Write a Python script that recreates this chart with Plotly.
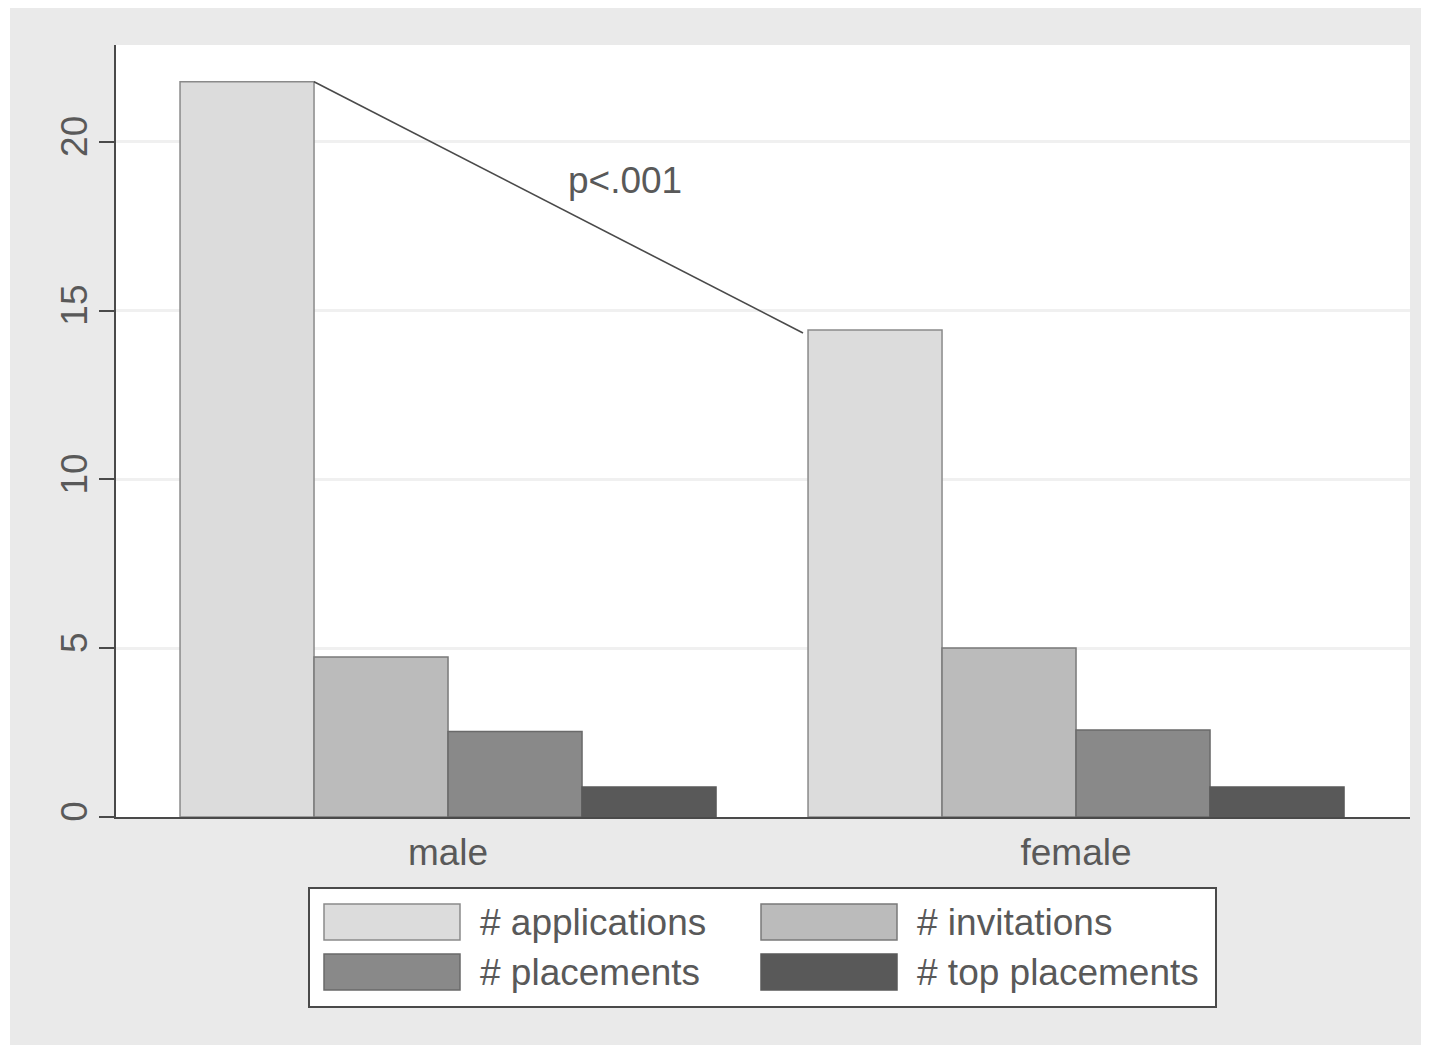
import plotly.graph_objects as go

categories = ["male", "female"]
series_names = ["# applications", "# invitations", "# placements", "# top placements"]
applications = [21.78, 14.43]
invitations = [4.74, 5.01]
placements = [2.53, 2.58]
top_placements = [0.89, 0.89]
series_values = [applications, invitations, placements, top_placements]
colors = ["#DCDCDC", "#BBBBBB", "#898989", "#595959"]
outline = ["#8A8A8A", "#7A7A7A", "#6A6A6A", "#595959"]
y_ticks = [0, 5, 10, 15, 20]
p_label = "p<.001"

OFF = 8  # page body margin
W, H = 1421, 1037
ML, MT = 116 - OFF, 45 - OFF
MR = W - (1410 - OFF)
MB = H - (817 - OFF)
PW, PH = W - ML - MR, H - MT - MB

def px(x):
    return (x - OFF - ML) / PW

def py(y):
    return (H - MB - (y - OFF)) / PH

TXT = "#595959"
FONT = "Liberation Sans, Arial, sans-serif"
FS = 37

group_width = 0.8535
bar_w = group_width / 4
xpos = list(range(len(categories)))

fig = go.Figure()
for name, vals, c, oc in zip(series_names, series_values, colors, outline):
    fig.add_trace(go.Bar(
        x=xpos, y=vals, name=name,
        marker=dict(color=c, line=dict(color=oc, width=1.5)),
        showlegend=False,
    ))

# significance line: from right edge of male applications bar to just left of female applications bar
x_start = xpos[0] - group_width / 2 + bar_w
x_end = xpos[1] - group_width / 2 - 0.008
fig.add_trace(go.Scatter(
    x=[x_start, x_end], y=[applications[0], applications[1] - 0.09],
    mode="lines", line=dict(color="#4A4A4A", width=1.6),
    showlegend=False, hoverinfo="skip",
))

fig.add_annotation(x=0.282, y=18.87, xref="x", yref="y", text=p_label,
                   showarrow=False, font=dict(size=FS, color=TXT, family=FONT))

shapes = []
# white strip left of the gray background
shapes.append(dict(type="rect", xref="paper", yref="paper",
                   x0=px(0), x1=px(10), y0=py(1053), y1=py(0),
                   fillcolor="white", line=dict(width=0), layer="below"))
# legend box
shapes.append(dict(type="rect", xref="paper", yref="paper",
                   x0=px(309), x1=px(1216), y0=py(1007), y1=py(888),
                   fillcolor="white", line=dict(color="#4A4A4A", width=2)))
leg_pos = [(324, 904), (761, 904), (324, 954), (761, 954)]
for (lx, ly), name, c, oc in zip(leg_pos, series_names, colors, outline):
    shapes.append(dict(type="rect", xref="paper", yref="paper",
                       x0=px(lx), x1=px(lx + 136), y0=py(ly + 36), y1=py(ly),
                       fillcolor=c, line=dict(color=oc, width=1.5)))
    fig.add_annotation(x=px(lx + 154), y=py(ly + 18), xref="paper", yref="paper",
                       text=name, showarrow=False, xanchor="left", yanchor="middle",
                       font=dict(size=FS, color=TXT, family=FONT))

fig.update_layout(
    width=W, height=H,
    margin=dict(l=ML, r=MR, t=MT, b=MB, pad=0),
    paper_bgcolor="#EAEAEA", plot_bgcolor="white",
    barmode="group", bargap=1 - group_width, bargroupgap=0,
    shapes=shapes,
    font=dict(family=FONT, color=TXT, size=FS),
    xaxis=dict(range=[-0.5287, 1.5318], tickvals=xpos, ticktext=categories,
               showgrid=False, zeroline=False, showline=True, linecolor="#4A4A4A",
               linewidth=2, ticks="", tickfont=dict(size=FS, color=TXT),
               ticklabelstandoff=2),
    yaxis=dict(range=[0, 22.87], tickvals=y_ticks, showgrid=True, gridcolor="#F0F0F0",
               gridwidth=3, zeroline=False, showline=True, linecolor="#4A4A4A", linewidth=2,
               ticks="outside", ticklen=15, tickwidth=2, tickcolor="#4A4A4A",
               tickangle=-90, tickfont=dict(size=FS, color=TXT), ticklabelstandoff=-3),
)

fig.write_html("out.html")
